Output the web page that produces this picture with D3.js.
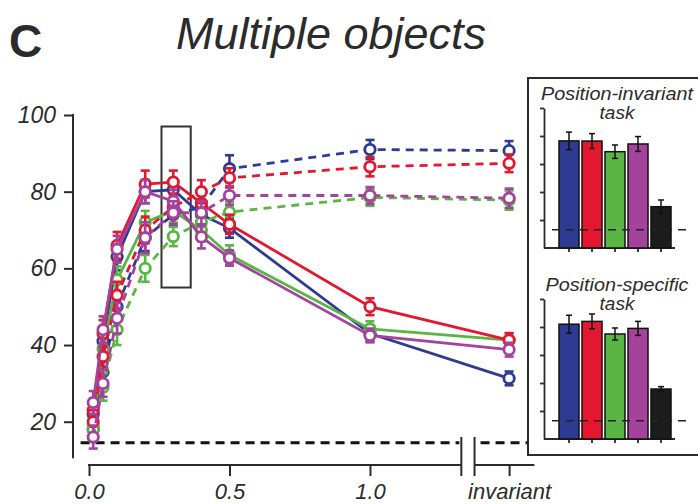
<!DOCTYPE html>
<html>
<head>
<meta charset="utf-8">
<script src="https://cdn.jsdelivr.net/npm/d3@7"></script>
<style>
  body { margin: 0; background: #fff; }
  svg { display: block; }
  text { font-family: "Liberation Sans", Arial, sans-serif; fill: #2b2b2b; }
</style>
</head>
<body>
<svg width="698" height="504"></svg>
<script>
// ---- data ----
const INV = 1.495;                      // where the "invariant" condition sits on the x axis
const xLevels = [0.015, 0.05, 0.1, 0.2, 0.3, 0.4, 0.5, 1.0, INV];
const xTicks = [0, 0.5, 1.0, INV];
const xTickLabels = ['0.0', '0.5', '1.0', 'invariant'];
const yTicks = [20, 40, 60, 80, 100];
const chance = 14.5;

// solid lines
const blueSolid    = [22, 41, 63, 80, 80.5, 74, 70.5, 43, 31.3];
const redSolid     = [23, 43, 66, 82, 82.5, 77, 71.5, 50, 41.3];
const greenSolid   = [19, 39, 57, 72, 75, 70, 63.5, 44.2, 41.3];
const magentaSolid = [25, 44, 65, 80, 77.5, 68.2, 62.7, 42.5, 38.8];
// dashed lines
const blueDashed    = [18, 33, 50, 68, 74, 76, 86, 91, 90.7];
const redDashed     = [20, 37, 53, 70, 76, 80, 83.6, 86.5, 87.4];
const greenDashed   = [18, 29, 44, 60, 68.3, 72, 74.7, 78.5, 77.8];
const magentaDashed = [16, 30, 47, 68, 74.5, 74.5, 79, 79, 78.3];
// standard errors
const blueSolidErr    = [3, 3.5, 3.5, 3, 3, 3, 2.5, 2, 1.8];
const redSolidErr     = [3, 3.5, 3.5, 3.5, 3, 3, 2.5, 2.2, 1.8];
const greenSolidErr   = [3, 3.5, 3.5, 3, 3, 3, 2.5, 2, 1.8];
const magentaSolidErr = [3, 3.5, 3.5, 3, 3, 3, 2, 1.8, 1.8];
const blueDashedErr    = [3, 3.5, 3.5, 3.5, 3, 3, 3.5, 2.5, 2.5];
const redDashedErr     = [3, 3.5, 3.5, 3.5, 3, 3, 2.5, 2.5, 2.3];
const greenDashedErr   = [3, 3.5, 4, 3.5, 2.5, 2.5, 2.5, 2.2, 2.5];
const magentaDashedErr = [3, 3.5, 4, 4, 3, 3, 2.5, 2.2, 2.5];

// insets
const barCats = ['blue', 'red', 'green', 'magenta', 'black'];
const invariantBars = [76.5, 76.4, 68.8, 74.3, 29.5];
const invariantErr  = [6.3, 5.3, 4.8, 5.3, 4.8];
const specificBars  = [82, 84, 75, 79, 35.7];
const specificErr   = [6.4, 5.3, 4.3, 5, 1.7];
const insetChance = 13;

const colors = { blue: '#2f3b93', red: '#e3172f', green: '#5ab544', magenta: '#a3439b', black: '#1c1c1c' };
const ink = '#2b2b2b';

const series = [
  { c: 'blue',    v: blueSolid,     e: blueSolidErr,     dashed: false },
  { c: 'blue',    v: blueDashed,    e: blueDashedErr,    dashed: true },
  { c: 'green',   v: greenSolid,    e: greenSolidErr,    dashed: false },
  { c: 'green',   v: greenDashed,   e: greenDashedErr,   dashed: true },
  { c: 'red',     v: redSolid,      e: redSolidErr,      dashed: false },
  { c: 'red',     v: redDashed,     e: redDashedErr,     dashed: true },
  { c: 'magenta', v: magentaSolid,  e: magentaSolidErr,  dashed: false },
  { c: 'magenta', v: magentaDashed, e: magentaDashedErr, dashed: true },
];

const svg = d3.select('svg');

// ---- title ----
svg.append('text')
  .attr('x', 9).attr('y', 57)
  .style('font-size', '46px').style('font-weight', 'bold')
  .text('C');
svg.append('text')
  .attr('x', 331).attr('y', 49)
  .attr('text-anchor', 'middle')
  .style('font-size', '45px').style('font-style', 'italic')
  .text('Multiple objects');

// ---- scales ----
const x = d3.scaleLinear().domain([0, 1]).range([89, 370]);
const y = d3.scaleLinear().domain([0, 100]).range([498.4, 115]);

// y axis
const yAxisG = svg.append('g')
  .attr('transform', 'translate(73,0)')
  .call(d3.axisLeft(y).tickValues(yTicks).tickSize(9).tickPadding(8).tickSizeOuter(0));
yAxisG.select('.domain').remove();
yAxisG.selectAll('.tick line').attr('stroke', ink).attr('stroke-width', 2);
yAxisG.selectAll('.tick text')
  .style('font-size', '23px').style('font-style', 'italic').attr('fill', ink);
svg.append('line')
  .attr('x1', 73).attr('x2', 73)
  .attr('y1', y(100) - 1).attr('y2', y(10.5))
  .attr('stroke', ink).attr('stroke-width', 2);

// x axis (with a break before "invariant")
const xAxisY = 465;
const xAxisG = svg.append('g')
  .attr('transform', `translate(0,${xAxisY})`)
  .call(d3.axisBottom(x).tickValues(xTicks).tickFormat((d, i) => xTickLabels[i])
    .tickSize(11).tickPadding(7));
xAxisG.select('.domain').remove();
xAxisG.selectAll('.tick line').attr('stroke', ink).attr('stroke-width', 2);
xAxisG.selectAll('.tick text')
  .style('font-size', '22px').style('font-style', 'italic').attr('fill', ink);

const brk1 = x(1.325), brk2 = x(1.372);
svg.append('line').attr('x1', x(0) - 1).attr('x2', brk1).attr('y1', xAxisY).attr('y2', xAxisY)
  .attr('stroke', ink).attr('stroke-width', 2);
svg.append('line').attr('x1', brk2).attr('x2', x(1.585)).attr('y1', xAxisY).attr('y2', xAxisY)
  .attr('stroke', ink).attr('stroke-width', 2);
[brk1, brk2].forEach(bx => {
  svg.append('line').attr('x1', bx).attr('x2', bx).attr('y1', 437).attr('y2', 476)
    .attr('stroke', ink).attr('stroke-width', 2);
});

// chance level
[[x(-0.03), brk1 - 2], [brk2 + 6, x(1.56)]].forEach(([a, b]) => {
  svg.append('line')
    .attr('x1', a).attr('x2', b)
    .attr('y1', y(chance)).attr('y2', y(chance))
    .attr('stroke', '#111').attr('stroke-width', 3)
    .attr('stroke-dasharray', '9,6');
});

// highlight frame around the 0.3 condition
svg.append('rect')
  .attr('x', x(0.258)).attr('y', y(97))
  .attr('width', x(0.362) - x(0.258)).attr('height', y(55) - y(97))
  .attr('fill', 'none').attr('stroke', '#333').attr('stroke-width', 2);

// ---- series ----
const line = d3.line().x(d => x(d.x)).y(d => y(d.v));

series.forEach(s => {
  const pts = xLevels.map((xv, i) => ({ x: xv, v: s.v[i], e: s.e[i] }));
  const col = colors[s.c];
  const g = svg.append('g');
  g.append('path')
    .datum(pts)
    .attr('d', line)
    .attr('fill', 'none')
    .attr('stroke', col)
    .attr('stroke-width', 2.8)
    .attr('stroke-dasharray', s.dashed ? '8,6' : null);
  const eb = g.selectAll('g.err').data(pts).enter().append('g').attr('class', 'err');
  eb.append('line')
    .attr('x1', d => x(d.x)).attr('x2', d => x(d.x))
    .attr('y1', d => y(d.v + d.e)).attr('y2', d => y(d.v - d.e))
    .attr('stroke', col).attr('stroke-width', 2.6);
  eb.selectAll('line.cap').data(d => [d.v + d.e, d.v - d.e].map(v => ({ x: d.x, v })))
    .enter().append('line').attr('class', 'cap')
    .attr('x1', d => x(d.x) - 4.5).attr('x2', d => x(d.x) + 4.5)
    .attr('y1', d => y(d.v)).attr('y2', d => y(d.v))
    .attr('stroke', col).attr('stroke-width', 2.6);
  g.selectAll('circle').data(pts).enter().append('circle')
    .attr('cx', d => x(d.x)).attr('cy', d => y(d.v))
    .attr('r', 5.2)
    .attr('fill', '#fff')
    .attr('stroke', col)
    .attr('stroke-width', 2.8);
});

// ---- insets ----
svg.append('rect')
  .attr('x', 528).attr('y', 78).attr('width', 180).attr('height', 377)
  .attr('fill', 'none').attr('stroke', ink).attr('stroke-width', 2);

const band = d3.scaleBand().domain(barCats).range([557.5, 672.5]).paddingInner(0.13).paddingOuter(0.065);

function drawInset(top, title, vals, errs) {
  const yi = d3.scaleLinear().domain([0, 100]).range([top + 140, top]);
  const g = svg.append('g');
  g.append('text').attr('x', 617).attr('y', top - 8).attr('text-anchor', 'middle')
    .style('font-size', '18px').style('font-style', 'italic')
    .attr('textLength', title === 'Position-invariant' ? 152 : 143)
    .attr('lengthAdjust', 'spacingAndGlyphs')
    .text(title);
  g.append('text').attr('x', 617).attr('y', top + 11).attr('text-anchor', 'middle')
    .style('font-size', '19px').style('font-style', 'italic')
    .text('task');

  const ya = g.append('g').attr('transform', 'translate(544,0)')
    .call(d3.axisLeft(yi).tickValues(yTicks).tickSize(4).tickFormat('').tickSizeOuter(0));
  ya.select('.domain').attr('stroke', ink).attr('stroke-width', 1.8);
  ya.selectAll('.tick line').attr('stroke', ink).attr('stroke-width', 1.8);

  const xa = g.append('g').attr('transform', `translate(0,${top + 140})`)
    .call(d3.axisBottom(band).tickSize(4).tickFormat('').tickSizeOuter(0));
  xa.select('.domain').attr('d', `M544,0H675`).attr('stroke', ink).attr('stroke-width', 1.8);
  xa.selectAll('.tick line').attr('stroke', ink).attr('stroke-width', 1.8);

  const data = barCats.map((c, i) => ({ c, v: vals[i], e: errs[i] }));
  g.selectAll('rect.bar').data(data).enter().append('rect').attr('class', 'bar')
    .attr('x', d => band(d.c)).attr('width', band.bandwidth())
    .attr('y', d => yi(d.v)).attr('height', d => yi(0) - yi(d.v))
    .attr('fill', d => colors[d.c]).attr('stroke', '#111').attr('stroke-width', 1.5);

  const eb = g.selectAll('g.berr').data(data).enter().append('g').attr('class', 'berr');
  eb.append('line')
    .attr('x1', d => band(d.c) + band.bandwidth() / 2).attr('x2', d => band(d.c) + band.bandwidth() / 2)
    .attr('y1', d => yi(d.v + d.e)).attr('y2', d => yi(d.v - d.e))
    .attr('stroke', '#111').attr('stroke-width', 1.5);
  eb.selectAll('line.cap').data(d => [d.v + d.e, d.v - d.e].map(v => ({ c: d.c, v })))
    .enter().append('line').attr('class', 'cap')
    .attr('x1', d => band(d.c) + band.bandwidth() / 2 - 3).attr('x2', d => band(d.c) + band.bandwidth() / 2 + 3)
    .attr('y1', d => yi(d.v)).attr('y2', d => yi(d.v))
    .attr('stroke', '#111').attr('stroke-width', 1.5);

  g.append('line')
    .attr('x1', 552).attr('x2', 686)
    .attr('y1', yi(insetChance)).attr('y2', yi(insetChance))
    .attr('stroke', '#222').attr('stroke-width', 1.6)
    .attr('stroke-dasharray', '8,6');
}

drawInset(108, 'Position-invariant', invariantBars, invariantErr);
drawInset(299, 'Position-specific', specificBars, specificErr);
</script>
</body>
</html>
